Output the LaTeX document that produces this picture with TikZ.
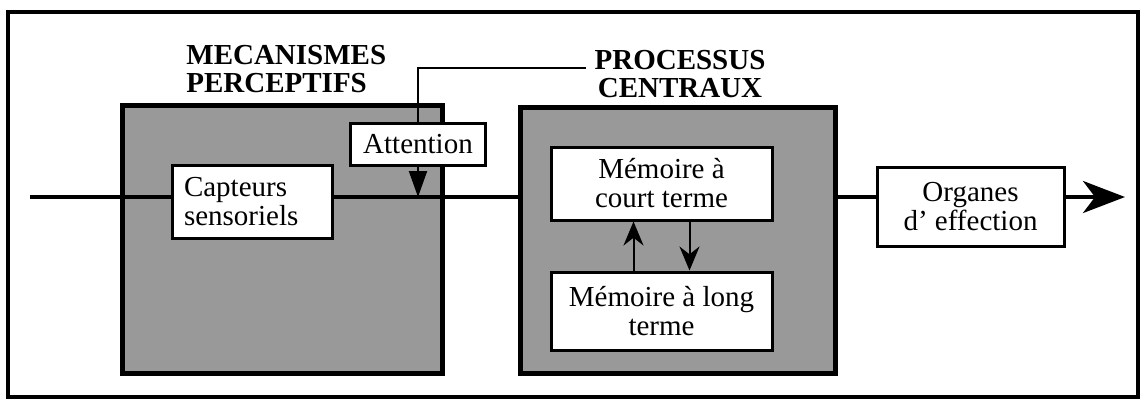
\documentclass[tikz,border=0pt]{standalone}
\usepackage{fontspec}
\setmainfont{Liberation Serif}
\usetikzlibrary{arrows.meta,shapes}

\begin{document}
\begin{tikzpicture}[x=0.5pt,y=-0.5pt,
    bloc/.style={draw,line width=2.5pt,fill=black!40,inner sep=0pt},
    boite/.style={draw,line width=1.5pt,fill=white,inner sep=2pt,align=center,
        font=\fontsize{14.5}{14.5}\selectfont},
    titre/.style={inner sep=0pt,font=\fontsize{14.5}{14}\selectfont\bfseries},
    fil/.style={line width=2pt},
    fin/.style={line width=1pt}]
\useasboundingbox (0,0) rectangle (1145,404);
\draw[fil] (8,12) rectangle (1138,397);
\node[bloc,minimum width=160pt,minimum height=134pt] (perc) at (282,239) {};
\node[bloc,minimum width=157.5pt,minimum height=133pt] (cent) at (677.5,240) {};
\node[titre,anchor=north west,align=left] (mp) at (186,45) {MECANISMES\\PERCEPTIFS};
\node[titre,anchor=north,align=center] (pc) at (680,50) {PROCESSUS\\CENTRAUX};
\coordinate (entree) at (30,197);
\coordinate (sortie) at (1125,197);
\coordinate (coin) at (586,68);
%,nodes={fill=white}]
\node[boite,minimum width=80pt,minimum height=36.5pt,text width=68pt,align=left] (cap) at (252,201.5) {Capteurs\\sensoriels};
\node[boite,minimum width=67.5pt,minimum height=21pt] (att) at (418,144) {Attention};
\node[boite,minimum width=110.5pt,minimum height=36.5pt] (mct) at (661.5,183.5) {Mémoire à\\court terme};
\node[boite,minimum width=110.5pt,minimum height=39pt] (mlt) at (661.5,311) {Mémoire à long\\terme};
\node[boite,minimum width=93.5pt,minimum height=39.5pt] (org) at (970.5,206.5) {Organes\\d’ effection};
\draw[fil] (entree) -- (entree -| cap.west);
\draw[fil] (entree -| cap.east) -- (entree -| cent.west);
\draw[fil] (entree -| cent.east) -- (entree -| org.west);
\draw[fil,-{Stealth[length=21pt,width=16pt,inset=6pt]}] (entree -| org.east) -- (sortie);
\draw[fin] (att.north) |- (coin);
\draw[fin,-{Triangle[length=13pt,width=9pt]}] (att.south) -- (att.south |- entree);
\draw[fin,-{Stealth[length=12pt,width=10pt]}] ([xshift=-14pt]mlt.north) -- ([xshift=-14pt]mct.south);
\draw[fin,-{Stealth[length=12pt,width=10pt]}] ([xshift=14pt]mct.south) -- ([xshift=14pt]mlt.north);
\end{tikzpicture}
\end{document}
